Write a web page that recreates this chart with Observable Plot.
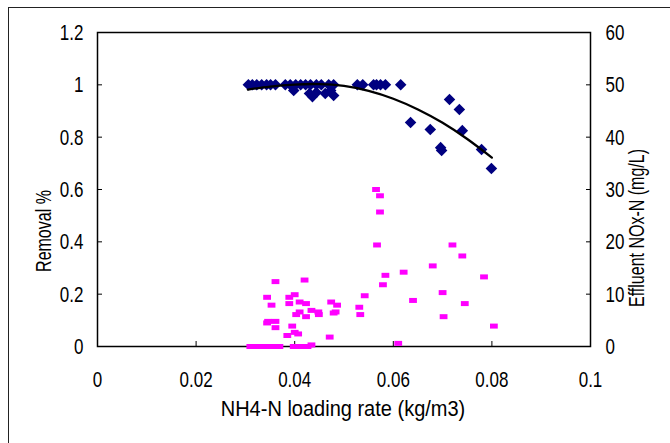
<!DOCTYPE html>
<html><head><meta charset="utf-8">
<script src="https://cdn.jsdelivr.net/npm/d3@7"></script>
<script src="https://cdn.jsdelivr.net/npm/@observablehq/plot@0.6"></script>
<style>
body{margin:0;background:#fff;}
#wrap{position:relative;width:670px;height:443px;overflow:hidden;background:#fff;font-family:'Liberation Sans',Arial,sans-serif;color:#000;}
#border{position:absolute;left:8px;top:7px;width:700px;height:500px;border-top:1.5px solid #222;border-left:1.5px solid #222;pointer-events:none;}
#chart{position:absolute;left:0;top:0;}
.title{position:absolute;white-space:nowrap;line-height:1;}
#xtitle{left:343px;top:408px;font-size:20px;transform:translate(-50%,-50%) scaleY(1.1);}
#ytitle{left:44px;top:231px;font-size:16px;transform:translate(-50%,-50%) rotate(-90deg) scaleY(1.4);}
#y2title{left:637px;top:228px;font-size:16px;transform:translate(-50%,-50%) rotate(-90deg) scaleY(1.4);}
</style></head>
<body><div id="wrap"><div id="chart"></div><div id="border"></div>
<div class="title" id="xtitle">NH4-N loading rate (kg/m3)</div>
<div class="title" id="ytitle">Removal %</div>
<div class="title" id="y2title">Effluent NOx-N (mg/L)</div>
</div>
<script>
// Removal (left axis)
const removalX = [0.0306,0.0314,0.0323,0.0333,0.0343,0.0351,0.0361,0.0381,0.0391,0.0402,0.0412,0.0422,0.0432,0.0444,0.0454,0.0469,0.0479,0.0527,0.0538,0.0560,0.0566,0.0574,0.0584,0.0615,
  0.0398,0.0430,0.0436,0.0444,0.0462,0.0473,0.0479,
  0.0714,0.0734,0.0635,0.0675,0.0740,0.0696,0.0698,0.0779,0.0799];
const removalY = [1,1,1,1,1,1,1,1,1,1,1,1,1,1,1,1,1,1,1,1,1,1,1,1,
  0.978,0.967,0.955,0.971,0.967,0.978,0.959,
  0.944,0.906,0.856,0.829,0.825,0.760,0.749,0.753,0.680];
// Effluent NOx-N (right axis, mg/L)
const noxX = [0.0361,0.0420,0.0344,0.0389,0.0400,0.0353,0.0389,0.0410,0.0423,0.0474,0.0486,0.0542,0.0531,0.0533,0.0410,0.0434,0.0448,0.0449,0.0403,0.0423,0.0483,0.0479,0.0346,0.0361,0.0344,0.0361,0.0395,0.0385,0.0400,0.0407,0.0471,0.0434,
  0.0565,0.0573,0.0573,0.0567,0.0720,0.0740,0.0680,0.0621,0.0584,0.0784,0.0579,0.0700,0.0640,0.0745,0.0702,0.0804,0.0610,
  0.0310,0.0323,0.0335,0.0347,0.0359,0.0369,0.0398,0.0408,0.0418,0.0426];
const noxY = [12.4,12.7,9.4,9.4,9.9,7.9,8.2,8.5,8.2,8.5,7.9,9.7,7.5,6.1,6.6,6.9,6.6,6.1,6.1,5.7,6.6,6.4,4.8,4.8,4.5,3.6,3.9,2.1,2.7,2.4,1.8,0.3,
  30.0,28.8,25.7,19.4,19.4,17.3,15.4,14.2,13.6,13.3,11.8,10.3,8.8,8.2,5.7,3.9,0.6,
  0,0,0,0,0,0,0,0,0,0];
// Trend line
const trendX = [0.0305,0.035,0.040,0.045,0.050,0.055,0.060,0.065,0.070,0.075,0.080];
const trendY = [0.982,0.993,1.001,1.003,0.996,0.977,0.947,0.906,0.855,0.793,0.722];

const xTicks = [0,0.02,0.04,0.06,0.08,0.1];
const leftTicks = [0,0.2,0.4,0.6,0.8,1,1.2];
const rightTicks = [0,10,20,30,40,50,60];
const ratio = 1.2/60;

const removal = removalX.map((x,i)=>({x, y: removalY[i]}));
const nox = noxX.map((x,i)=>({x, v: noxY[i]}));
const trend = trendX.map((x,i)=>({x, y: trendY[i]}));

const rectSym = {draw(ctx){ ctx.moveTo(-3.9,-2.5); ctx.lineTo(3.9,-2.5); ctx.lineTo(3.9,2.5); ctx.lineTo(-3.9,2.5); ctx.closePath(); }};
const fmt = d => String(+(+d).toFixed(2));

const chart = Plot.plot({
  width: 670, height: 443,
  marginLeft: 97, marginRight: 80, marginTop: 32, marginBottom: 97,
  style: {fontFamily: "'Liberation Sans', Arial, sans-serif", fontSize: "17px", color: "#000", background: "transparent"},
  x: {domain: [0, 0.1]},
  y: {domain: [0, 1.2]},
  marks: [
    Plot.axisX(xTicks, {anchor: "bottom", tickSize: -5, tickPadding: 29, tickFormat: fmt, label: null, stroke: "#000"}),
    Plot.axisY(leftTicks, {anchor: "left", tickSize: -5, tickPadding: 19, tickFormat: fmt, label: null, stroke: "#000"}),
    Plot.axisY(rightTicks.map(v => v*ratio), {anchor: "right", tickSize: -5, tickPadding: 20, tickFormat: d => String(Math.round(d/ratio)), label: null, stroke: "#000"}),
    Plot.frame({stroke: "#000", strokeWidth: 1.5}),
    Plot.dot(nox, {x: "x", y: d => d.v*ratio, symbol: rectSym, fill: "#ff00ff", stroke: "none"}),
    Plot.dot(removal, {x: "x", y: "y", symbol: "diamond2", r: 5.2, fill: "#000080", stroke: "none"}),
    Plot.line(trend, {x: "x", y: "y", curve: "natural", stroke: "#000", strokeWidth: 2.3})
  ]
});
document.getElementById("chart").appendChild(chart);
// stretch tick-label glyphs vertically like the condensed original font
chart.querySelectorAll("text").forEach(t => {
  const tr = t.getAttribute("transform");
  if (tr) t.setAttribute("transform", tr + " scale(1,1.35)");
  else {
    const x = +(t.getAttribute("x")||0), y = +(t.getAttribute("y")||0);
    t.setAttribute("transform", `translate(${x},${y}) scale(1,1.35) translate(${-x},${-y})`);
  }
});
</script>
</body></html>
